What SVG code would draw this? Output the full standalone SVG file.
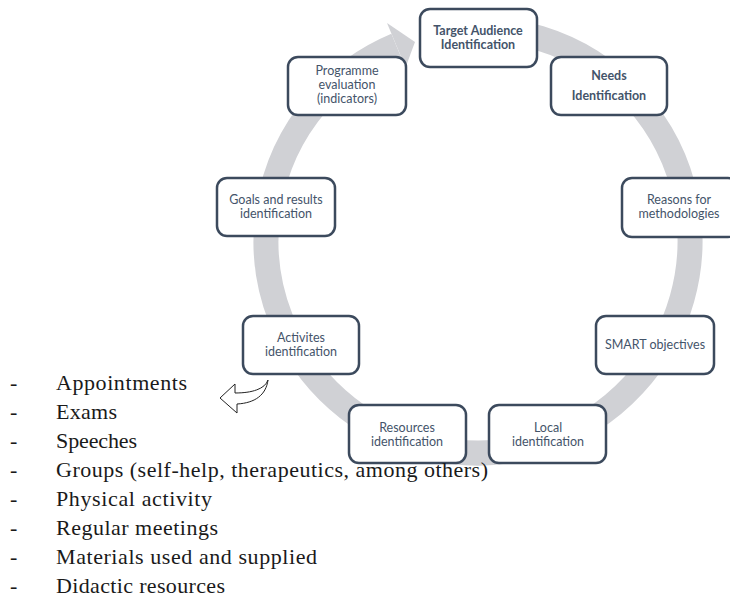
<svg xmlns="http://www.w3.org/2000/svg" width="730" height="599" viewBox="0 0 730 599">
<style>
.box{fill:#ffffff;stroke:#3c4a5d;stroke-width:2.5}
.t{font-family:Lato,"Open Sans","Noto Sans",sans-serif;font-size:12.5px;fill:#44546a;text-anchor:middle}
.b{font-weight:bold}
.li{font-family:"Liberation Serif","Times New Roman",serif;font-size:22px;fill:#1a1a1a}
</style>
<rect width="730" height="599" fill="#ffffff"/>
<g id="connectors">
<path d="M441.2,32.2 A212,212 0 1 1 396.2,45.4" fill="none" stroke="#d0d1d5" stroke-width="25"/>
<polygon points="387,23 415,42 405.5,67.6" fill="#d0d1d5"/>
<path d="M268,380 C265,389 252,393 235,393 L235,384 L220,398 L237,413 L237,404 C255,403 266,395 268,380 Z" fill="#ffffff" stroke="#222222" stroke-width="1" stroke-linejoin="miter"/>
</g>
<g id="n-target"><rect class="box" x="420" y="9" width="117" height="58" rx="10"/><text class="t b" x="478" y="35">Target Audience</text><text class="t b" x="478" y="49">Identification</text></g>
<g id="n-needs"><rect class="box" x="551" y="57" width="116" height="58" rx="10"/><text class="t b" x="609" y="80">Needs</text><text class="t b" x="609" y="100">Identification</text></g>
<g id="n-reasons"><rect class="box" x="622" y="178" width="116" height="59" rx="10"/><text class="t" x="679" y="204">Reasons for</text><text class="t" x="679" y="218">methodologies</text></g>
<g id="n-smart"><rect class="box" x="596" y="316" width="118" height="58" rx="10"/><text class="t" x="655" y="349">SMART objectives</text></g>
<g id="n-local"><rect class="box" x="489" y="405" width="117" height="58" rx="10"/><text class="t" x="548" y="432">Local</text><text class="t" x="548" y="446">identification</text></g>
<g id="n-resources"><rect class="box" x="349" y="405" width="117" height="58" rx="10"/><text class="t" x="407" y="432">Resources</text><text class="t" x="407" y="446">identification</text></g>
<g id="n-activites"><rect class="box" x="243" y="316" width="116" height="58" rx="10"/><text class="t" x="301" y="342">Activites</text><text class="t" x="301" y="356">identification</text></g>
<g id="n-goals"><rect class="box" x="217" y="178" width="118" height="58" rx="10"/><text class="t" x="276" y="204">Goals and results</text><text class="t" x="276" y="218">identification</text></g>
<g id="n-programme"><rect class="box" x="288" y="57" width="118" height="58" rx="10"/><text class="t" x="347" y="75">Programme</text><text class="t" x="347" y="89">evaluation</text><text class="t" x="347" y="103">(indicators)</text></g>
<g id="list">
<text class="li" x="10" y="390">-</text><text class="li" x="56" y="390" textLength="131">Appointments</text>
<text class="li" x="10" y="419">-</text><text class="li" x="56" y="419" textLength="61">Exams</text>
<text class="li" x="10" y="448">-</text><text class="li" x="56" y="448" textLength="81">Speeches</text>
<text class="li" x="10" y="477">-</text><text class="li" x="56" y="477" textLength="432">Groups (self-help, therapeutics, among others)</text>
<text class="li" x="10" y="506">-</text><text class="li" x="56" y="506" textLength="156">Physical activity</text>
<text class="li" x="10" y="535">-</text><text class="li" x="56" y="535" textLength="162">Regular meetings</text>
<text class="li" x="10" y="564">-</text><text class="li" x="56" y="564" textLength="261">Materials used and supplied</text>
<text class="li" x="10" y="593">-</text><text class="li" x="56" y="593" textLength="169">Didactic resources</text>
</g>
</svg>
